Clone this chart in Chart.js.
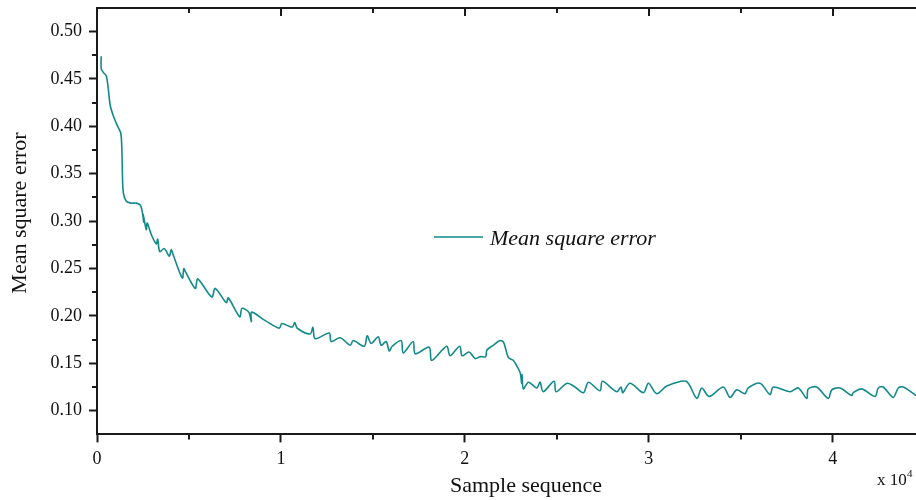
<!DOCTYPE html>
<html>
<head>
<meta charset="utf-8">
<script src="https://cdn.jsdelivr.net/npm/chart.js@4.4.1/dist/chart.umd.min.js"></script>
<style>
    html, body { margin: 0; padding: 0; background: #fff; }
    #wrap { width: 916px; height: 500px; }
</style>
</head>
<body>
<div id="wrap"><canvas id="mseChart" width="916" height="500"></canvas></div>
<script>
// sample index in units of 10^4 (axis shows "x 10^4")
const sampleX = [
    0.023, 0.023, 0.034, 0.051, 0.061, 0.072, 0.089, 0.110, 0.129, 0.135,
    0.138, 0.143, 0.159, 0.186, 0.214, 0.235, 0.246, 0.254, 0.251, 0.268,
    0.273, 0.295, 0.322, 0.330, 0.341, 0.366, 0.393, 0.404, 0.415, 0.464,
    0.472, 0.480, 0.534, 0.548, 0.624, 0.643, 0.703, 0.714, 0.776, 0.788,
    0.825, 0.839, 0.841,
    0.915, 0.991, 1.005, 1.061, 1.075, 1.089, 1.159, 1.174, 1.186, 1.263,
    1.273, 1.322, 1.377, 1.393, 1.453, 1.469, 1.491, 1.529, 1.545, 1.572,
    1.589, 1.605, 1.654, 1.665, 1.719, 1.730, 1.806, 1.820, 1.901, 1.920,
    1.972, 1.985, 2.023, 2.056, 2.083, 2.113, 2.120, 2.154, 2.192, 2.211,
    2.237, 2.264, 2.283, 2.301, 2.309, 2.311, 2.318, 2.346, 2.391, 2.409,
    2.426, 2.485, 2.496, 2.556, 2.599, 2.645, 2.672, 2.735,
    2.748, 2.826, 2.849, 2.859, 2.898, 2.971, 2.998, 3.043, 3.098, 3.203,
    3.261, 3.288, 3.329, 3.405, 3.442, 3.478, 3.523, 3.541, 3.605, 3.659,
    3.677, 3.768, 3.813, 3.859, 3.867, 3.913, 3.976, 3.995, 4.040, 4.103,
    4.112, 4.158, 4.230, 4.248, 4.275, 4.329, 4.357, 4.384, 4.453
];
const mse = [
    0.474, 0.461, 0.457, 0.453, 0.440, 0.422, 0.411, 0.401, 0.393, 0.377,
    0.351, 0.330, 0.321, 0.319, 0.319, 0.317, 0.310, 0.299, 0.307, 0.291,
    0.298, 0.286, 0.276, 0.281, 0.268, 0.271, 0.263, 0.270, 0.264, 0.240,
    0.250, 0.247, 0.229, 0.239, 0.220, 0.229, 0.214, 0.219, 0.199, 0.208,
    0.204, 0.194, 0.204,
    0.195, 0.187, 0.192, 0.188, 0.193, 0.187, 0.181, 0.188, 0.176, 0.182,
    0.173, 0.177, 0.169, 0.174, 0.168, 0.179, 0.171, 0.178, 0.169, 0.173,
    0.163, 0.168, 0.174, 0.161, 0.173, 0.160, 0.167, 0.153, 0.168, 0.158,
    0.168, 0.158, 0.162, 0.155, 0.157, 0.157, 0.164, 0.169, 0.174, 0.172,
    0.156, 0.153, 0.147, 0.140, 0.129, 0.138, 0.123, 0.130, 0.124, 0.130,
    0.120, 0.131, 0.120, 0.129, 0.125, 0.119, 0.130, 0.121,
    0.131, 0.120, 0.125, 0.119, 0.129, 0.119, 0.129, 0.118, 0.126, 0.131,
    0.113, 0.124, 0.115, 0.125, 0.114, 0.122, 0.118, 0.124, 0.129, 0.117,
    0.125, 0.120, 0.124, 0.113, 0.123, 0.125, 0.113, 0.122, 0.124, 0.116,
    0.119, 0.123, 0.115, 0.124, 0.125, 0.114, 0.124, 0.125, 0.116
];

const xTicks = [0, 1, 2, 3, 4];
const xMinorTicks = [0.5, 1.5, 2.5, 3.5];
const yTicks = [0.10, 0.15, 0.20, 0.25, 0.30, 0.35, 0.40, 0.45, 0.50];
const yMinorTicks = [0.125, 0.175, 0.225, 0.275, 0.325, 0.375, 0.425, 0.475];
const xRange = [0, 4.453];
const yRange = [0.075, 0.525];

const seriesLabel = "Mean square error";
const xTitle = "Sample sequence";
const yTitle = "Mean square error";

const LINE_COLOR = "#138a8a";
const AXIS_COLOR = "#1a1a1a";
const SERIF = "'Liberation Serif', 'Times New Roman', serif";

Chart.defaults.font.family = SERIF;
Chart.defaults.color = "#111";

// top frame, minor ticks, titles and the floating legend
const framePlugin = {
    id: "frame",
    afterDraw(chart) {
        const { ctx, chartArea: a, scales: { x, y } } = chart;
        const line = (x1, y1, x2, y2) => {
            ctx.beginPath();
            ctx.moveTo(x1, y1);
            ctx.lineTo(x2, y2);
            ctx.stroke();
        };
        ctx.save();
        ctx.strokeStyle = AXIS_COLOR;
        ctx.lineWidth = 2;
        line(a.left - 1, a.top, a.right, a.top);
        xTicks.forEach((v) => {
            const px = Math.round(x.getPixelForValue(v));
            line(px, a.top, px, a.top + 8);
        });
        xMinorTicks.forEach((v) => {
            const px = Math.round(x.getPixelForValue(v));
            line(px, a.top, px, a.top + 5);
            line(px, a.bottom, px, a.bottom + 5);
        });
        yMinorTicks.forEach((v) => {
            const py = Math.round(y.getPixelForValue(v));
            line(a.left, py, a.left - 5, py);
        });

        // legend
        ctx.strokeStyle = LINE_COLOR;
        ctx.lineWidth = 1.6;
        line(434, 237, 483, 237);
        ctx.fillStyle = "#111";
        ctx.font = "italic 22px " + SERIF;
        ctx.textAlign = "left";
        ctx.textBaseline = "alphabetic";
        ctx.fillText(seriesLabel, 490, 245);

        // axis titles
        ctx.font = "22px " + SERIF;
        ctx.textAlign = "center";
        ctx.fillText(xTitle, 526, 492);
        ctx.save();
        ctx.translate(26, 213);
        ctx.rotate(-Math.PI / 2);
        ctx.fillText(yTitle, 0, 0);
        ctx.restore();

        // x multiplier
        ctx.textAlign = "left";
        ctx.font = "17px " + SERIF;
        ctx.fillText("x 10", 877, 485);
        ctx.font = "11px " + SERIF;
        ctx.fillText("4", 907, 477);
        ctx.restore();
    },
};

new Chart(document.getElementById("mseChart"), {
    type: "line",
    data: {
        datasets: [{
            label: seriesLabel,
            data: sampleX.map((v, i) => ({ x: v, y: mse[i] })),
            borderColor: LINE_COLOR,
            borderWidth: 1.6,
            pointRadius: 0,
            tension: 0.3,
            fill: false,
        }],
    },
    options: {
        responsive: false,
        animation: false,
        layout: { padding: { left: 43.5, right: 0, top: 0, bottom: 24 } },
        plugins: { legend: { display: false }, tooltip: { enabled: false } },
        scales: {
            x: {
                type: "linear",
                min: xRange[0], max: xRange[1],
                afterBuildTicks: (s) => { s.ticks = xTicks.map((v) => ({ value: v })); },
                ticks: { font: { size: 18 }, padding: 6, color: "#111", maxRotation: 0,
                    callback: (v) => String(v) },
                grid: { drawOnChartArea: false, tickLength: 8, tickWidth: 2, tickColor: AXIS_COLOR },
                border: { color: AXIS_COLOR, width: 2 },
            },
            y: {
                type: "linear",
                min: yRange[0], max: yRange[1],
                afterBuildTicks: (s) => { s.ticks = yTicks.map((v) => ({ value: v })); },
                ticks: { font: { size: 18, lineHeight: 0.1 }, padding: 7, color: "#111",
                    callback: (v) => Number(v).toFixed(2) },
                grid: { drawOnChartArea: false, tickLength: 8, tickWidth: 2, tickColor: AXIS_COLOR },
                border: { color: AXIS_COLOR, width: 2 },
            },
        },
    },
    plugins: [framePlugin],
});
</script>
</body>
</html>
